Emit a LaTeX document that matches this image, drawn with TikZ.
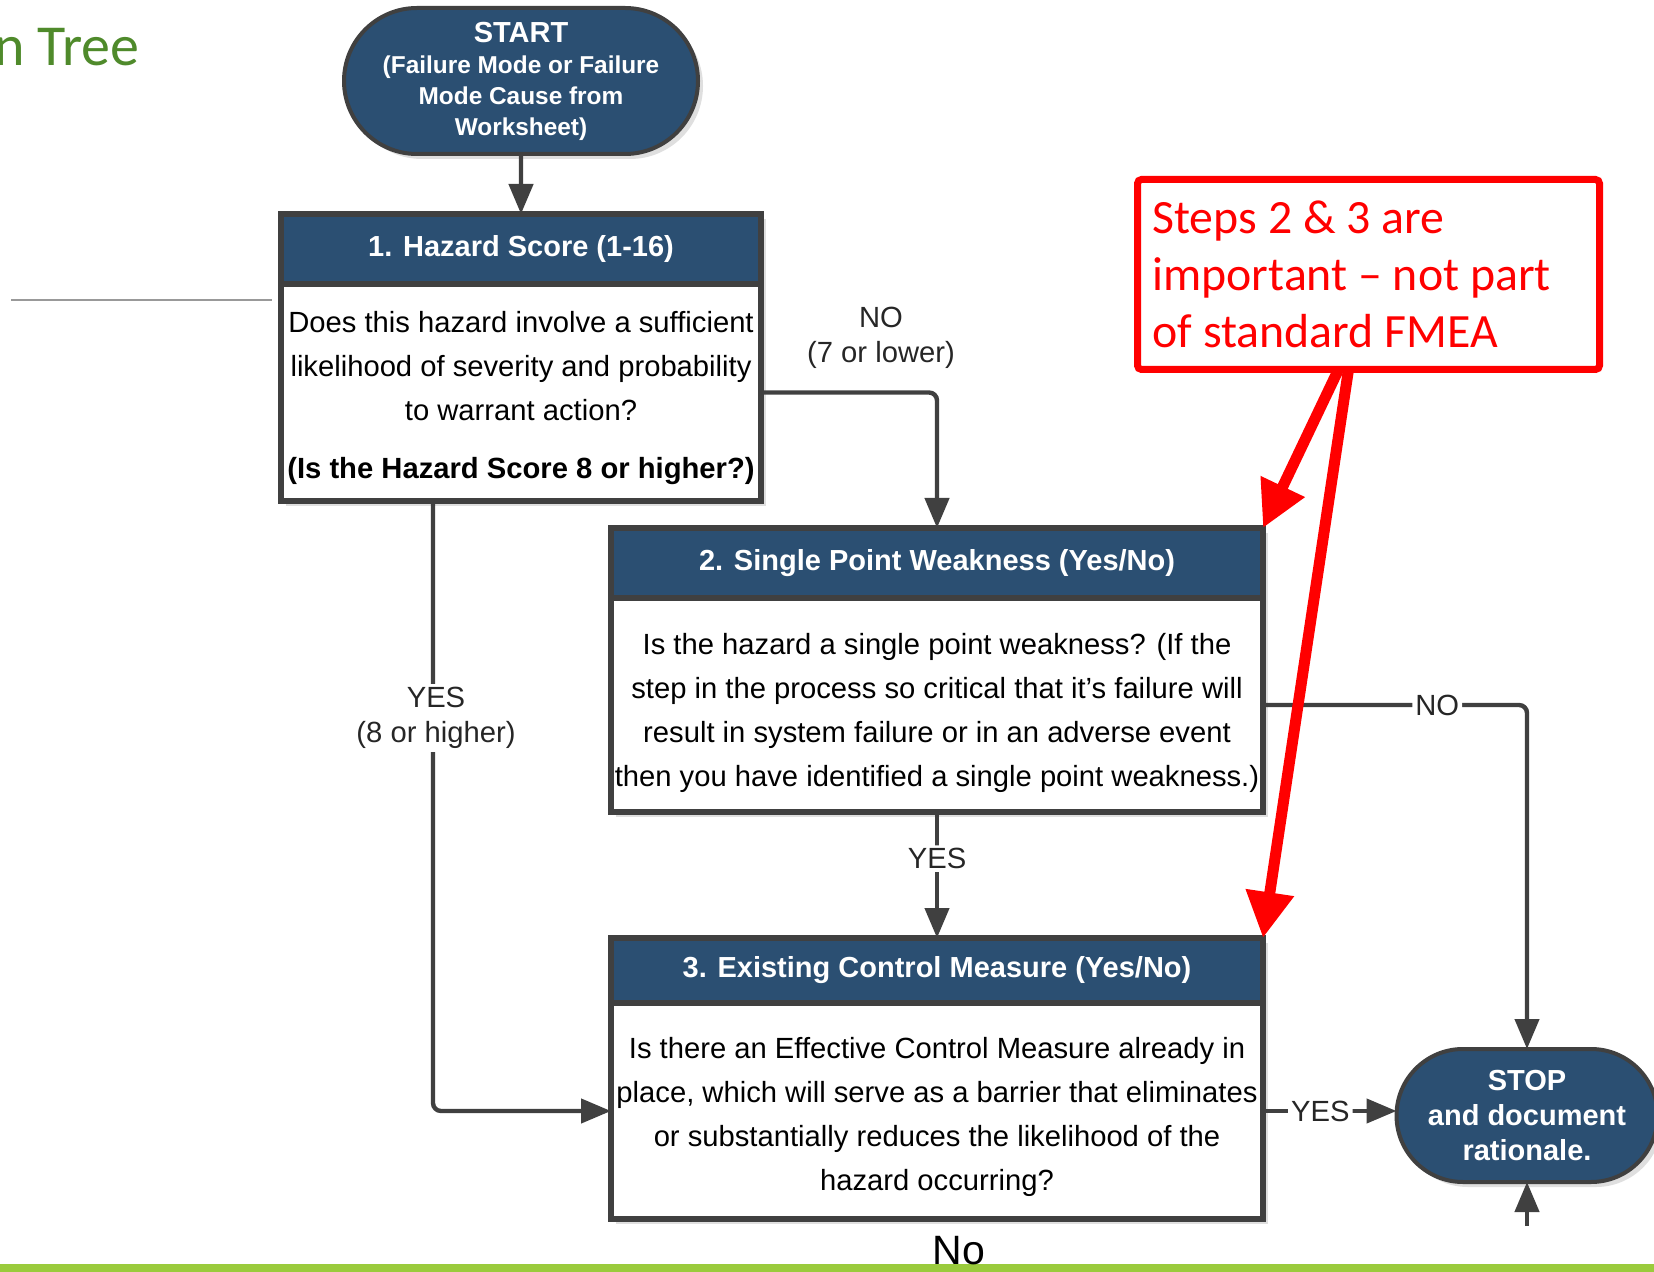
\documentclass[tikz,border=0pt]{standalone}
\usepackage{fontspec}
\setmainfont{Liberation Sans}
\newfontfamily\notefont{Carlito}
\usetikzlibrary{arrows.meta,positioning,calc,shapes.misc,shadows}
\definecolor{fblue}{HTML}{2B4F72}
\definecolor{fgray}{HTML}{404040}
\definecolor{fred}{HTML}{FF0000}
\definecolor{fgreen}{HTML}{4F8A2B}
\definecolor{fband}{HTML}{9ACB3C}
\tikzset{
  head/.style  = {draw=fgray, line width=3pt, fill=fblue, text=white,
                  inner sep=0pt, outer sep=0pt,
                  font=\fontsize{14.5}{17}\selectfont\bfseries},
  body/.style  = {draw=fgray, line width=3pt, fill=white, align=center,
                  inner sep=0pt, outer sep=0pt,
                  font=\fontsize{14.6}{22}\selectfont},
  term/.style  = {rounded rectangle, draw=fgray, line width=2pt, fill=fblue,
                  text=white, align=center, inner sep=0pt, outer sep=0pt},
  shade/.style = {drop shadow={shadow xshift=2.5pt, shadow yshift=-2.5pt,
                  fill=black!25}},
  flow/.style  = {-{Triangle[length=15pt,width=12pt]}, line width=2.2pt,
                  draw=fgray, rounded corners=4pt},
  lbl/.style   = {font=\fontsize{14.6}{17.5}\selectfont, text=black!85,
                  align=center, inner sep=1.5pt},
  hint/.style  = {-{Triangle[length=23pt,width=23pt]}, line width=5.5pt,
                  draw=fred},
}
\begin{document}
\begin{tikzpicture}[x=0.5pt,y=-0.5pt]
\useasboundingbox (0,0) rectangle (1654,1272);
% page decoration
\node[anchor=base east, inner sep=0pt, text=fgreen,
      font=\notefont\fontsize{29}{34}\selectfont] (title) at (140,66) {n Tree};
\draw[line width=0.8pt, black!40] (11,300) -- (272,300);
\fill[fband] (0,1264) rectangle (1654,1272);
% start
\node[term, shade, minimum width=177pt, minimum height=73pt,
      font=\fontsize{12.2}{15.5}\selectfont\bfseries] (start) at (521,81)
  {{\fontsize{14.5}{15.5}\selectfont START}\\(Failure Mode or Failure\\Mode Cause from\\Worksheet)};
% step 1
\node[head, shade, minimum width=240pt, minimum height=35pt] (hd1) at (521,249)
  {1. Hazard Score (1-16)};
\node[body, shade, minimum width=240pt, minimum height=108.5pt, anchor=north]
  (bd1) at (hd1.south)
  {\rule{0pt}{16.5pt}Does this hazard involve a sufficient\\likelihood of severity and probability\\to warrant action?\\[7pt]\textbf{(Is the Hazard Score 8 or higher?)}};
% step 2
\node[head, shade, minimum width=326pt, minimum height=35pt] (hd2) at (937,563)
  {2. Single Point Weakness (Yes/No)};
\node[body, shade, minimum width=326pt, minimum height=107pt, anchor=north]
  (bd2) at (hd2.south)
  {\rule{0pt}{19pt}Is the hazard a single point weakness? (If the\\step in the process so critical that it's failure will\\result in system failure or in an adverse event\\then you have identified a single point weakness.)};
% step 3
\node[head, shade, minimum width=326pt, minimum height=32.5pt] (hd3) at (937,970.5)
  {3. Existing Control Measure (Yes/No)};
\node[body, shade, minimum width=326pt, minimum height=108pt, anchor=north]
  (bd3) at (hd3.south)
  {\rule{0pt}{17pt}Is there an Effective Control Measure already in\\place, which will serve as a barrier that eliminates\\or substantially reduces the likelihood of the\\hazard occurring?};
% stop
\node[term, shade, minimum width=130.5pt, minimum height=66.5pt,
      font=\fontsize{14.5}{17.5}\selectfont\bfseries] (stop) at (1527,1115.5)
  {STOP\\and document\\rationale.};
\coordinate (stopin) at (1527,1226);
% connectors
\draw[flow] (start) -- (hd1);
\draw[flow] (bd1.east) -| (hd2.north);
\node[lbl] (lno1) at (881,338) {NO\\(7 or lower)};
\draw[flow] ([xshift=-44pt]bd1.south) |- (bd3.west);
\node[lbl, fill=white] (lyes1) at (436,718) {YES\\(8 or higher)};
\draw[flow] (bd2.south) -- node[lbl, fill=white, pos=0.37] (lyes2) {YES} (hd3.north);
\draw[flow] (bd2.east) -| node[lbl, fill=white, pos=0.33] (lno2) {NO} (stop.north);
\draw[flow] (bd3.east) -- node[lbl, fill=white, pos=0.43] (lyes3) {YES} (bd3.east -| stop.west);
\draw[flow] (stopin) -- (stop.south);
% callout
\node[draw=fred, line width=3.5pt, rounded corners=2pt, text=fred,
      minimum width=231pt, minimum height=95pt, text width=216pt,
      align=flush left, inner sep=0pt, outer sep=0pt,
      font=\notefont\fontsize{23.9}{28.5}\selectfont] (note) at (1368.5,274.5)
  {Steps 2 \& 3 are\\important – not part\\of standard FMEA};
\draw[hint] ([xshift=-15pt]note.south) -- (hd2.north east);
\draw[hint] ([xshift=-10pt]note.south) -- (hd3.north east);
% footer text
\node[anchor=base west, inner sep=0pt, font=\fontsize{20.5}{24}\selectfont]
  (nolbl) at (932,1264) {No};
\end{tikzpicture}
\end{document}
